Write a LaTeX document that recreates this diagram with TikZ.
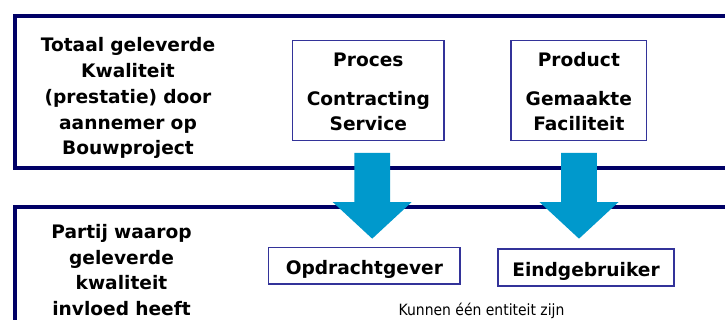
\documentclass[tikz,border=0pt]{standalone}
\usepackage{fontspec}
\setmainfont{DejaVu Sans}
\newfontfamily\notefont{DejaVu Sans}[FakeStretch=0.9]
\usetikzlibrary{calc}
\definecolor{frame}{HTML}{000066}
\definecolor{boxline}{HTML}{333399}
\definecolor{flow}{HTML}{0099CC}

% a broad downward block arrow from coordinate #1 (top of the shaft) to #2 (tip)
\newcommand\downflow[2]{%
  \fill[flow] ($(#1)+(-17.8,0)$) -- ($(#1)+(17.8,0)$) -- ($(#2)+(17.8,-36.6)$)
    -- ($(#2)+(39.5,-36.6)$) -- (#2) -- ($(#2)+(-39.5,-36.6)$)
    -- ($(#2)+(-17.8,-36.6)$) -- cycle;}

\begin{document}
\begin{tikzpicture}[x=1pt,y=-1pt,
  panel/.style={draw=frame, line width=4pt, line join=miter},
  tagbox/.style={draw=boxline, line width=1.3pt, inner sep=0pt},
  heading/.style={font=\fontsize{18.6}{25.8}\selectfont\bfseries,
    align=center, inner sep=0pt, anchor=base, text width=#1},
  heading/.default=220pt,
  party/.style={tagbox, font=\fontsize{18.6}{22}\selectfont\bfseries,
    text height=17.5pt, text depth=0pt},
]
\useasboundingbox (0,0) rectangle (725,320);
\clip (0,0) rectangle (725,320);
\fill[white] (0,0) rectangle (725,320);

% the two open panels
\draw[panel] (740,16.2) -- (14.7,16.2) -- (14.7,168.3) -- (740,168.3);
\draw[panel] (740,207) -- (14.7,207) -- (14.7,340);

% upper panel: what the contractor delivers
\node[heading] (delivered) at (128,51.7)
  {Totaal geleverde\\Kwaliteit\\(prestatie) door\\aannemer op\\Bouwproject};
\node[tagbox, minimum width=151.3pt, minimum height=100pt] (proces) at (368.35,90.7) {};
\node[heading=150pt, font=\fontsize{18.6}{24.7}\selectfont\bfseries] (procestxt) at (368.35,66.7)
  {Proces\\[14.6pt]Contracting\\Service};
\node[tagbox, minimum width=135.7pt, minimum height=100pt] (product) at (578.85,90.7) {};
\node[heading=150pt, font=\fontsize{18.6}{24.7}\selectfont\bfseries] (producttxt) at (578.85,66.7)
  {Product\\[14.6pt]Gemaakte\\Faciliteit};

% lower panel: the parties affected
\node[heading] (affected) at (121.5,238.3)
  {Partij waarop\\geleverde\\kwaliteit\\invloed heeft};
\node[party, minimum width=191.3pt, minimum height=36.3pt] (client) at (364.35,265.85) {Opdrachtgever};
\node[party, minimum width=176pt, minimum height=37pt] (enduser) at (586,267.5) {Eindgebruiker};
\node[font=\notefont\fontsize{15.5}{18}\selectfont, inner sep=0pt, anchor=base] (note) at (481.5,315.8)
  {Kunnen één entiteit zijn};

% flows from the delivered quality to the parties
\coordinate (f1s) at ($(proces.south)+(3.85,11.6)$);
\coordinate (f1t) at ($(f1s |- client.north)+(0,-8.4)$);
\coordinate (f2s) at ($(product.south)+(0.15,11.6)$);
\coordinate (f2t) at ($(f2s |- enduser.north)+(0,-9.7)$);
\downflow{f1s}{f1t}
\downflow{f2s}{f2t}
\end{tikzpicture}
\end{document}
